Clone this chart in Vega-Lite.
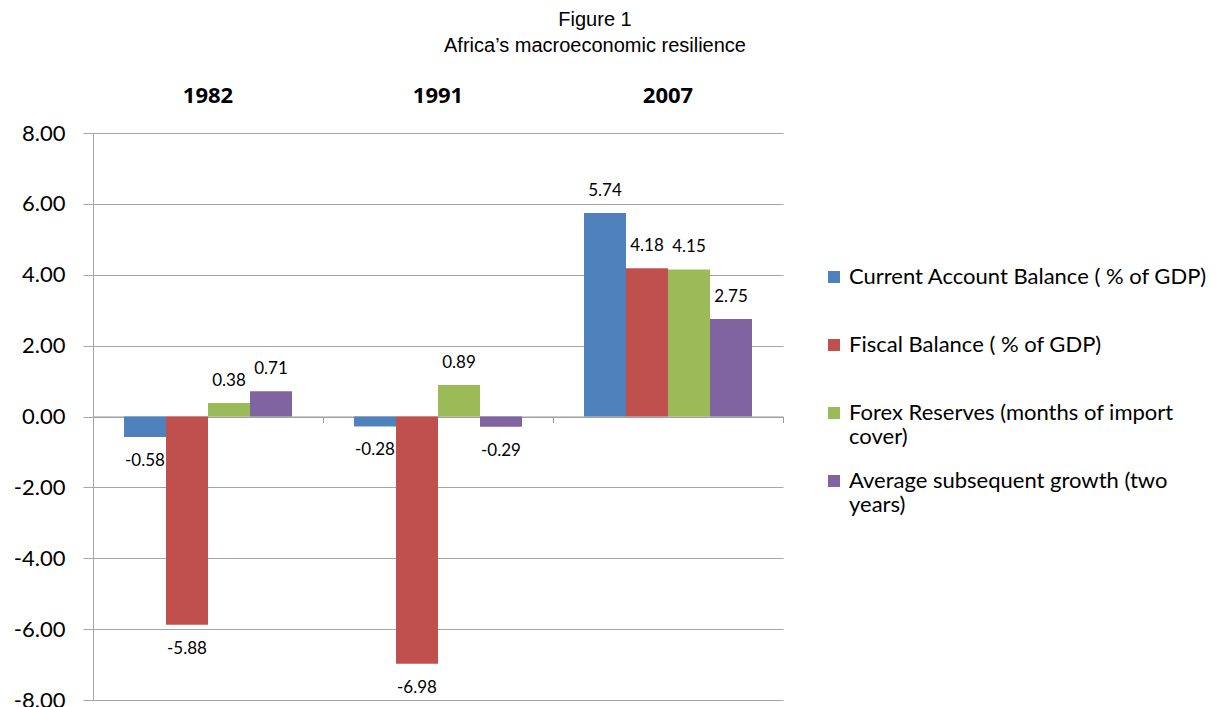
{
  "$schema": "https://vega.github.io/schema/vega-lite/v6.json",
  "autosize": {"type": "none"},
  "width": 690,
  "height": 567,
  "padding": {"left": 93, "top": 133, "right": 433, "bottom": 7},
  "background": "white",
  "title": {
    "text": ["Figure 1", "Africa’s macroeconomic resilience"],
    "font": "Liberation Sans",
    "fontSize": 20,
    "fontWeight": "normal",
    "color": "black",
    "anchor": "middle",
    "frame": "group",
    "dx": 157,
    "offset": 28,
    "lineHeight": 26
  },
  "config": {
    "view": {"stroke": null},
    "axis": {"labelFont": "Lato", "labelColor": "black"},
    "legend": {"labelFont": "Lato"},
    "locale": {
      "number": {"decimal": ".", "thousands": ",", "grouping": [3], "currency": ["$", ""], "minus": "-"}
    }
  },
  "data": {
    "values": [
      {"year": "1982", "series": "Current Account Balance ( % of GDP)", "value": -0.58},
      {"year": "1982", "series": "Fiscal Balance ( % of GDP)", "value": -5.88},
      {"year": "1982", "series": "Forex Reserves (months of import cover)", "value": 0.38},
      {"year": "1982", "series": "Average subsequent growth (two years)", "value": 0.71},
      {"year": "1991", "series": "Current Account Balance ( % of GDP)", "value": -0.28},
      {"year": "1991", "series": "Fiscal Balance ( % of GDP)", "value": -6.98},
      {"year": "1991", "series": "Forex Reserves (months of import cover)", "value": 0.89},
      {"year": "1991", "series": "Average subsequent growth (two years)", "value": -0.29},
      {"year": "2007", "series": "Current Account Balance ( % of GDP)", "value": 5.74},
      {"year": "2007", "series": "Fiscal Balance ( % of GDP)", "value": 4.18},
      {"year": "2007", "series": "Forex Reserves (months of import cover)", "value": 4.15},
      {"year": "2007", "series": "Average subsequent growth (two years)", "value": 2.75}
    ]
  },
  "encoding": {
    "x": {
      "field": "year",
      "type": "nominal",
      "scale": {"paddingInner": 0, "paddingOuter": 0}
    },
    "xOffset": {
      "field": "series",
      "type": "nominal",
      "sort": ["Current Account Balance ( % of GDP)", "Fiscal Balance ( % of GDP)", "Forex Reserves (months of import cover)", "Average subsequent growth (two years)"],
      "scale": {"paddingInner": 0, "paddingOuter": 0.738}
    },
    "y": {
      "field": "value",
      "type": "quantitative",
      "scale": {"domain": [-8, 8], "nice": false, "zero": false}
    }
  },
  "layer": [
    {
      "mark": {"type": "bar"},
      "encoding": {
        "x": {
          "field": "year",
          "type": "nominal",
          "axis": {
            "orient": "bottom",
            "offset": -283.5,
            "labels": false,
            "title": null,
            "domainColor": "#9a9a9a",
            "tickColor": "#9a9a9a",
            "tickBand": "extent",
            "tickSize": 6
          }
        },
        "y": {
          "field": "value",
          "type": "quantitative",
          "axis": {
            "title": null,
            "values": [-8, -6, -4, -2, 0, 2, 4, 6, 8],
            "format": ".2f",
            "labelFontSize": 22,
            "labelPadding": 18,
            "grid": true,
            "gridColor": "#a6a6a6",
            "domainColor": "#a6a6a6",
            "tickColor": "#a6a6a6",
            "tickSize": 10
          }
        },
        "color": {
          "field": "series",
          "type": "nominal",
          "sort": ["Current Account Balance ( % of GDP)", "Fiscal Balance ( % of GDP)", "Forex Reserves (months of import cover)", "Average subsequent growth (two years)"],
          "scale": {"range": ["#4F81BD", "#C0504D", "#9BBB59", "#8064A2"]},
          "legend": {
            "title": null,
            "orient": "none",
            "legendX": 730,
            "legendY": 133,
            "symbolType": "square",
            "symbolSize": 144,
            "symbolStrokeWidth": 0,
            "labelFontSize": 22,
            "labelColor": "black",
            "labelLimit": 420,
            "labelOffset": 4,
            "gridAlign": "all",
            "rowPadding": 22,
            "labelExpr": "datum.label == 'Forex Reserves (months of import cover)' ? ['Forex Reserves (months of import', 'cover)'] : datum.label == 'Average subsequent growth (two years)' ? ['Average subsequent growth (two', 'years)'] : datum.label"
          }
        }
      }
    },
    {
      "transform": [{"filter": "datum.value >= 0"}],
      "mark": {"type": "text", "baseline": "middle", "dy": -22, "font": "Lato", "fontSize": 17, "color": "black"},
      "encoding": {
        "x": {
          "field": "year",
          "type": "nominal",
          "axis": {
            "orient": "top",
            "title": null,
            "domain": false,
            "ticks": false,
            "labelAngle": 0,
            "labelFontWeight": "bold",
            "labelFontSize": 22,
            "labelPadding": 26,
            "labelFont": "Open Sans"
          }
        },
        "text": {"field": "value", "type": "quantitative", "format": ".2f"}
      }
    },
    {
      "transform": [{"filter": "datum.value < 0"}],
      "mark": {"type": "text", "baseline": "middle", "dy": 24, "font": "Lato", "fontSize": 17, "color": "black"},
      "encoding": {
        "x": {"field": "year", "type": "nominal", "axis": null},
        "text": {"field": "value", "type": "quantitative", "format": ".2f"}
      }
    }
  ],
  "resolve": {"axis": {"x": "independent"}}
}
